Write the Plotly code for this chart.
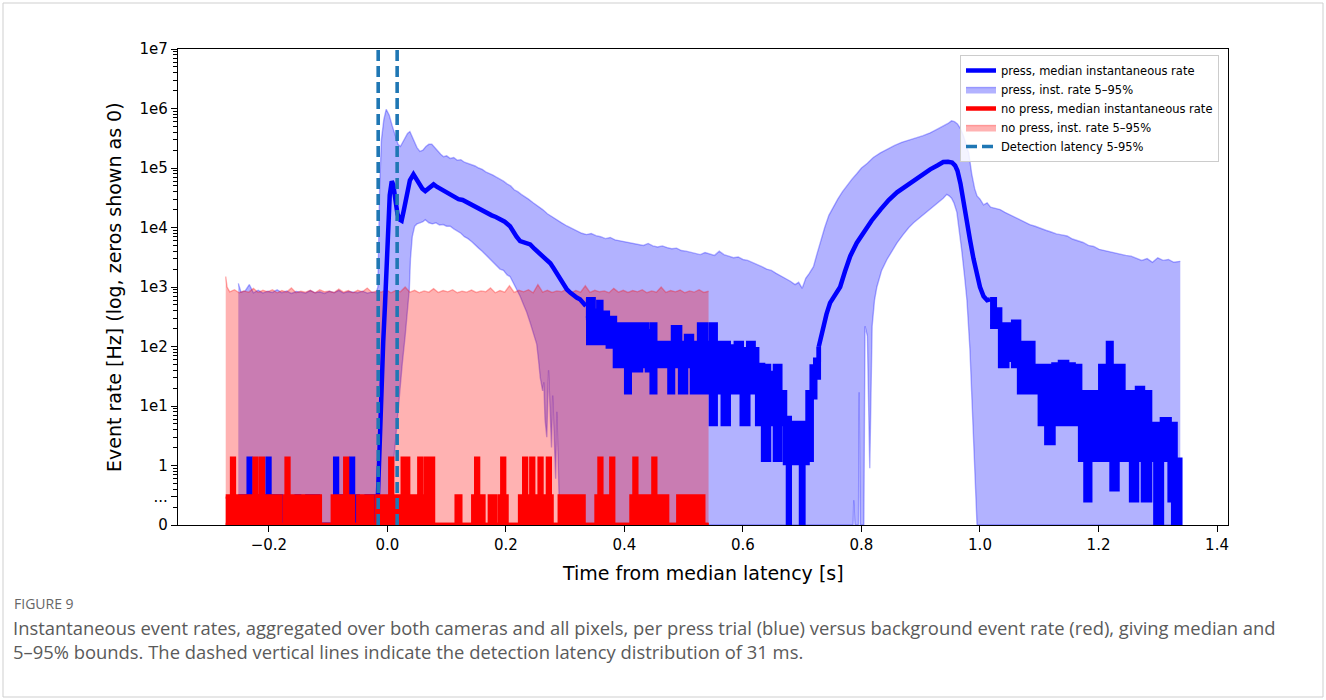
import plotly.graph_objects as go

ZERO_SHOWN_AS = 0.1  # zeros are drawn at the bottom of the log axis ("0")

# ---------------- data (time in s, rates in Hz) ----------------
# press trials: 95th percentile of instantaneous rate
press_p95 = [
    (-0.2515, 1150), (-0.247, 820), (-0.240, 860), (-0.233, 1100), (-0.226, 800), (-0.218, 880),
    (-0.210, 790), (-0.202, 850), (-0.194, 810), (-0.186, 900), (-0.178, 800), (-0.170, 860),
    (-0.162, 780), (-0.154, 840), (-0.146, 820), (-0.138, 790), (-0.130, 870), (-0.122, 800),
    (-0.114, 830), (-0.106, 780), (-0.098, 850), (-0.090, 800), (-0.082, 880), (-0.074, 790),
    (-0.066, 840), (-0.058, 810), (-0.050, 800), (-0.042, 850), (-0.034, 790), (-0.026, 820),
    (-0.019, 800), (-0.016, 1000), (-0.013, 5e4), (-0.010, 3e5), (-0.006, 6.5e5), (-0.002, 9.7e5),
    (0.003, 7.8e5), (0.008, 5.2e5), (0.013, 3.5e5), (0.018, 2.5e5), (0.022, 2.3e5), (0.026, 2.7e5),
    (0.030, 3.2e5), (0.034, 3.8e5), (0.038, 4.1e5), (0.042, 3.4e5), (0.046, 2.7e5), (0.050, 2.2e5),
    (0.055, 1.9e5), (0.060, 2.0e5), (0.065, 2.3e5), (0.070, 2.5e5), (0.075, 2.5e5), (0.080, 2.2e5),
    (0.085, 1.9e5), (0.090, 1.7e5), (0.095, 1.55e5), (0.100, 1.6e5), (0.106, 1.45e5), (0.112, 1.5e5),
    (0.118, 1.35e5), (0.124, 1.38e5), (0.130, 1.25e5), (0.136, 1.2e5), (0.142, 1.15e5), (0.148, 1.08e5),
    (0.154, 1.0e5), (0.160, 9.5e4), (0.166, 8.6e4), (0.172, 8.2e4), (0.178, 7.6e4), (0.184, 7.0e4),
    (0.190, 6.5e4), (0.196, 6.0e4), (0.202, 5.4e4), (0.208, 5.0e4), (0.214, 4.3e4), (0.220, 4.0e4),
    (0.226, 3.6e4), (0.232, 3.3e4), (0.238, 3.0e4), (0.246, 2.6e4), (0.254, 2.3e4), (0.262, 2.0e4),
    (0.270, 1.7e4), (0.278, 1.5e4), (0.286, 1.35e4), (0.294, 1.2e4), (0.303, 1.06e4), (0.312, 9.5e3),
    (0.320, 8.6e3), (0.328, 8.0e3), (0.336, 7.6e3), (0.344, 7.9e3), (0.352, 7.3e3), (0.360, 7.0e3),
    (0.368, 6.5e3), (0.376, 6.8e3), (0.384, 6.2e3), (0.392, 6.0e3), (0.400, 5.8e3), (0.408, 5.6e3),
    (0.416, 5.5e3), (0.424, 5.2e3), (0.432, 5.0e3), (0.440, 5.4e3), (0.448, 4.9e3), (0.456, 4.7e3),
    (0.464, 4.9e3), (0.472, 4.6e3), (0.480, 4.4e3), (0.488, 4.5e3), (0.496, 4.1e3), (0.504, 4.0e3),
    (0.512, 3.8e3), (0.520, 3.7e3), (0.528, 3.5e3), (0.536, 3.8e3), (0.544, 3.6e3), (0.552, 3.4e3),
    (0.560, 4.0e3), (0.568, 3.5e3), (0.576, 3.3e3), (0.584, 3.1e3), (0.592, 3.2e3), (0.600, 2.9e3),
    (0.608, 2.8e3), (0.616, 2.6e3), (0.624, 2.4e3), (0.632, 2.2e3), (0.640, 2.0e3), (0.648, 1.9e3),
    (0.656, 1.7e3), (0.664, 1.55e3), (0.672, 1.4e3), (0.680, 1.25e3), (0.688, 1.1e3), (0.694, 1.2e3),
    (0.700, 950), (0.706, 1.4e3), (0.712, 1.7e3), (0.719, 2.2e3), (0.725, 3.6e3), (0.731, 6.0e3),
    (0.738, 1.0e4), (0.745, 1.6e4), (0.752, 2.2e4), (0.760, 3.0e4), (0.768, 4.0e4), (0.776, 5.2e4),
    (0.784, 6.5e4), (0.792, 8.0e4), (0.800, 1.0e5), (0.810, 1.2e5), (0.820, 1.5e5), (0.832, 1.8e5),
    (0.844, 2.1e5), (0.856, 2.4e5), (0.868, 2.7e5), (0.880, 2.9e5), (0.892, 3.2e5), (0.904, 3.5e5),
    (0.916, 3.9e5), (0.928, 4.5e5), (0.938, 5.0e5), (0.946, 5.6e5), (0.952, 6.2e5), (0.957, 6.0e5),
    (0.962, 5.5e5), (0.967, 4.6e5), (0.972, 3.5e5), (0.977, 2.5e5), (0.981, 1.8e5), (0.986, 8.0e4),
    (0.991, 4.5e4), (0.995, 3.4e4), (1.000, 3.0e4), (1.006, 2.4e4), (1.012, 2.6e4), (1.018, 2.2e4),
    (1.026, 2.1e4), (1.034, 2.0e4), (1.042, 1.8e4), (1.050, 1.65e4), (1.058, 1.5e4), (1.066, 1.4e4),
    (1.075, 1.25e4), (1.084, 1.12e4), (1.093, 1.05e4), (1.102, 9.6e3), (1.111, 9.0e3), (1.120, 8.4e3),
    (1.129, 7.8e3), (1.138, 7.5e3), (1.147, 7.2e3), (1.156, 6.4e3), (1.165, 6.0e3), (1.174, 5.6e3),
    (1.183, 5.0e3), (1.192, 4.8e3), (1.201, 4.3e3), (1.210, 4.1e3), (1.219, 3.9e3), (1.228, 3.7e3),
    (1.237, 3.5e3), (1.246, 3.4e3), (1.255, 3.3e3), (1.264, 3.0e3), (1.273, 2.8e3), (1.282, 3.0e3),
    (1.291, 2.6e3), (1.300, 3.1e3), (1.309, 2.8e3), (1.318, 2.9e3), (1.327, 2.6e3), (1.338, 2.7e3),
]

# press trials: 5th percentile of instantaneous rate
press_p05 = [
    (-0.2515, 0), (0.008, 0), (0.011, 1.3), (0.015, 4), (0.020, 15), (0.025, 50), (0.030, 150),
    (0.034, 400), (0.037, 900), (0.039, 3000), (0.042, 7000), (0.046, 1.05e4), (0.050, 1.15e4),
    (0.055, 1.2e4), (0.060, 1.25e4), (0.064, 1.35e4), (0.070, 1.2e4), (0.076, 1.15e4), (0.082, 1.2e4),
    (0.088, 1.1e4), (0.094, 1.12e4), (0.100, 1.05e4), (0.106, 1.05e4), (0.112, 9.5e3), (0.118, 8.8e3),
    (0.124, 8.0e3), (0.130, 7.0e3), (0.136, 6.5e3), (0.142, 5.8e3), (0.148, 5.0e3), (0.154, 4.5e3),
    (0.160, 4.0e3), (0.166, 3.5e3), (0.172, 3.0e3), (0.178, 2.7e3), (0.184, 2.3e3), (0.190, 2.0e3),
    (0.196, 1.9e3), (0.202, 1.6e3), (0.207, 1.5e3), (0.212, 1.2e3), (0.218, 950), (0.224, 700),
    (0.230, 500), (0.235, 380), (0.241, 250), (0.246, 170), (0.252, 110), (0.255, 60), (0.258, 30),
    (0.262, 18), (0.264, 25), (0.266, 6), (0.269, 3), (0.272, 40), (0.275, 5), (0.277, 2), (0.279, 15),
    (0.282, 2), (0.284, 0.6), (0.286, 8), (0.289, 0.5), (0.291, 0), (0.786, 0), (0.787, 0.26),
    (0.789, 0), (0.795, 0), (0.796, 17), (0.798, 0), (0.804, 0), (0.806, 220), (0.810, 150),
    (0.814, 0.9), (0.818, 220), (0.822, 600), (0.826, 1000), (0.834, 1900), (0.843, 2900),
    (0.852, 4200), (0.860, 5500), (0.870, 7500), (0.880, 1.0e4), (0.888, 1.2e4), (0.900, 1.5e4),
    (0.910, 1.8e4), (0.920, 2.2e4), (0.930, 2.6e4), (0.938, 3.1e4), (0.944, 3.6e4), (0.948, 3.4e4),
    (0.952, 3.1e4), (0.956, 2.6e4), (0.961, 1.8e4), (0.965, 9e3), (0.969, 4.3e3), (0.974, 1.5e3),
    (0.978, 600), (0.983, 90), (0.987, 10), (0.990, 2), (0.995, 0), (1.338, 0),
]

# no-press (background): 95th / 5th percentile
nopress_p95 = [
    (-0.2728, 1500), (-0.2705, 1000), (-0.266, 830), (-0.258, 900), (-0.250, 800), (-0.242, 860),
    (-0.234, 820), (-0.226, 950), (-0.218, 810), (-0.210, 880), (-0.202, 830), (-0.194, 900),
    (-0.186, 800), (-0.178, 870), (-0.170, 820), (-0.162, 960), (-0.154, 800), (-0.146, 850),
    (-0.138, 820), (-0.130, 880), (-0.122, 800), (-0.114, 900), (-0.106, 830), (-0.098, 850),
    (-0.090, 810), (-0.082, 920), (-0.074, 820), (-0.066, 870), (-0.058, 800), (-0.050, 880),
    (-0.042, 830), (-0.034, 960), (-0.026, 810), (-0.018, 860), (-0.010, 820), (-0.002, 900),
    (0.006, 800), (0.014, 870), (0.022, 830), (0.030, 1000), (0.038, 820), (0.046, 880),
    (0.054, 800), (0.062, 860), (0.070, 820), (0.078, 940), (0.086, 810), (0.094, 870),
    (0.102, 830), (0.110, 900), (0.118, 800), (0.126, 850), (0.134, 820), (0.142, 890),
    (0.150, 810), (0.158, 860), (0.166, 830), (0.174, 960), (0.182, 800), (0.190, 870),
    (0.198, 820), (0.206, 1050), (0.214, 810), (0.222, 880), (0.230, 830), (0.238, 900),
    (0.246, 800), (0.254, 1100), (0.262, 820), (0.270, 880), (0.278, 810), (0.286, 860),
    (0.294, 830), (0.302, 920), (0.310, 800), (0.318, 870), (0.326, 820), (0.334, 1050),
    (0.342, 810), (0.350, 880), (0.358, 830), (0.366, 860), (0.374, 800), (0.382, 950),
    (0.390, 820), (0.398, 880), (0.406, 810), (0.414, 870), (0.422, 830), (0.430, 900),
    (0.438, 800), (0.446, 860), (0.454, 820), (0.462, 1000), (0.470, 810), (0.478, 870),
    (0.486, 830), (0.494, 890), (0.502, 800), (0.510, 860), (0.518, 820), (0.526, 900),
    (0.534, 810), (0.542, 850),
]
nopress_p05 = [(-0.2728, 0), (0.542, 0)]

# press median: smooth stretches
press_median_onset = [
    (-0.016, 0.3), (-0.014, 1.5), (-0.012, 8), (-0.0095, 40), (-0.007, 120), (-0.004, 500),
    (-0.001, 2000), (0.002, 1.2e4), (0.004, 3.5e4), (0.0074, 6e4), (0.010, 5.2e4), (0.013, 3.2e4),
    (0.017, 1.7e4), (0.021, 1.35e4), (0.024, 1.3e4), (0.028, 2e4), (0.033, 4e4), (0.038, 6.2e4),
    (0.044, 7.8e4), (0.049, 6.5e4), (0.054, 5.4e4), (0.059, 4.5e4), (0.064, 4.1e4), (0.070, 4.5e4),
    (0.078, 5.3e4), (0.084, 4.8e4), (0.090, 4.4e4), (0.098, 4.0e4), (0.106, 3.5e4), (0.113, 3.3e4),
    (0.120, 3.0e4), (0.127, 2.9e4), (0.134, 2.65e4), (0.141, 2.4e4), (0.148, 2.25e4), (0.155, 2.1e4),
    (0.162, 1.9e4), (0.169, 1.75e4), (0.176, 1.6e4), (0.183, 1.5e4), (0.190, 1.38e4), (0.198, 1.25e4),
    (0.207, 1.05e4), (0.212, 8.5e3), (0.218, 7e3), (0.224, 5.9e3), (0.230, 5.6e3), (0.236, 5.5e3),
    (0.241, 5.2e3), (0.248, 4.4e3), (0.255, 3.8e3), (0.262, 3.3e3), (0.269, 2.9e3), (0.275, 2.5e3),
    (0.280, 2.1e3), (0.286, 1.7e3), (0.291, 1.4e3), (0.297, 1.1e3), (0.303, 910), (0.309, 800),
    (0.315, 700), (0.320, 660), (0.325, 620), (0.330, 550), (0.335, 480),
]
press_median_second_peak = [
    (0.728, 100), (0.731, 140), (0.736, 220), (0.741, 350), (0.747, 540), (0.755, 750),
    (0.764, 1000), (0.772, 1800), (0.781, 3300), (0.792, 5500), (0.803, 8100), (0.817, 1.3e4),
    (0.832, 2e4), (0.846, 2.9e4), (0.860, 3.9e4), (0.874, 4.9e4), (0.888, 6e4), (0.902, 7.6e4),
    (0.916, 9.5e4), (0.928, 1.1e5), (0.938, 1.26e5), (0.946, 1.27e5), (0.953, 1.23e5), (0.958, 1.1e5),
    (0.962, 9e4), (0.967, 5.5e4), (0.972, 3e4), (0.978, 1.2e4), (0.983, 6.3e3), (0.989, 3e3),
    (0.995, 1.5e3), (1.000, 1.0e3), (1.006, 700), (1.012, 600), (1.017, 620),
]
# press median: noisy stretches as (t, upper level, lower level) of the rapidly switching steps
press_median_pre = [
    (-0.2515, 0.3, 0), (-0.234, 1.3, 0), (-0.231, 0.3, 0), (-0.202, 1.3, 0), (-0.199, 0.3, 0),
    (-0.180, 0, 0), (-0.153, 0.3, 0), (-0.149, 0, 0), (-0.135, 0.3, 0), (-0.117, 0, 0),
    (-0.088, 1.3, 0), (-0.085, 0.3, 0), (-0.070, 0, 0), (-0.061, 1.3, 0), (-0.058, 0.3, 0),
    (-0.050, 0, 0), (-0.035, 0.3, 0), (-0.016, 0.3, 0),
]
press_median_mid = [
    (0.335, 600, 300), (0.339, 620, 115), (0.348, 400, 115), (0.356, 560, 140), (0.361, 370, 115),
    (0.372, 300, 100), (0.384, 235, 47), (0.396, 235, 60), (0.403, 235, 17), (0.409, 200, 47),
    (0.415, 235, 40), (0.428, 235, 47), (0.438, 180, 40), (0.446, 235, 17), (0.452, 115, 47),
    (0.466, 115, 47), (0.476, 115, 17), (0.482, 210, 47), (0.494, 115, 17), (0.504, 150, 47),
    (0.514, 115, 17), (0.526, 235, 17), (0.538, 115, 17), (0.546, 235, 5), (0.554, 115, 17),
    (0.566, 115, 5), (0.576, 100, 17), (0.588, 115, 17), (0.598, 90, 5), (0.609, 115, 17),
    (0.618, 90, 17), (0.624, 49, 5), (0.634, 47, 1.25), (0.644, 36, 5), (0.654, 47, 1.25),
    (0.663, 17, 5), (0.671, 6.3, 1.1), (0.676, 6.3, 0), (0.679, 5.2, 1.1), (0.698, 5.2, 0),
    (0.702, 5.2, 1.1), (0.709, 17, 1.25), (0.716, 46, 14), (0.722, 60, 30), (0.728, 100, 100),
]
press_median_tail = [
    (1.017, 620, 215), (1.025, 420, 215), (1.034, 234, 47), (1.046, 234, 60), (1.056, 260, 47),
    (1.066, 115, 17), (1.080, 115, 17), (1.090, 47, 17), (1.101, 47, 5), (1.112, 47, 2.4),
    (1.124, 50, 5), (1.135, 55, 5), (1.147, 50, 5), (1.158, 47, 5), (1.169, 17, 1.25),
    (1.178, 17, 0.26), (1.186, 17, 1.25), (1.196, 17, 1.25), (1.203, 47, 1.25), (1.216, 115, 1.25),
    (1.222, 47, 0.4), (1.232, 47, 1.25), (1.242, 17, 1.25), (1.255, 17, 0.26), (1.265, 20, 1.25),
    (1.275, 17, 0.26), (1.287, 5, 1.25), (1.296, 5, 0), (1.299, 5, 1.25), (1.303, 5, 0),
    (1.307, 6, 1.25), (1.320, 5, 0.26), (1.326, 5, 0), (1.330, 1.25, 0), (1.338, 0, 0),
]
# no-press median (mostly zero, short steps to ~0.3 and ~1.3 Hz)
nopress_median = [
    (-0.2728, 0.3), (-0.262, 1.3), (-0.259, 0.3), (-0.229, 0), (-0.227, 0.3), (-0.224, 1.3),
    (-0.221, 0.3), (-0.213, 1.3), (-0.210, 0.3), (-0.181, 0), (-0.173, 0.3), (-0.170, 1.3),
    (-0.167, 0.3), (-0.151, 0), (-0.147, 0.3), (-0.114, 0), (-0.092, 0.3), (-0.071, 1.3),
    (-0.068, 0.3), (-0.058, 0), (-0.049, 0.3), (-0.041, 0), (-0.035, 0.3), (-0.026, 0),
    (-0.018, 0.3), (0.005, 1.3), (0.008, 0.3), (0.016, 0), (0.021, 0.3), (0.026, 1.3),
    (0.029, 0.3), (0.031, 1.3), (0.035, 0.3), (0.043, 0), (0.047, 0.3), (0.054, 1.3),
    (0.057, 0.3), (0.065, 1.3), (0.068, 0.3), (0.074, 1.3), (0.077, 0), (0.117, 0.3),
    (0.123, 0), (0.145, 0.3), (0.150, 1.3), (0.153, 0.3), (0.162, 0), (0.173, 0.3),
    (0.182, 0), (0.190, 0.3), (0.194, 1.3), (0.197, 0.3), (0.201, 0), (0.224, 0.3),
    (0.229, 0), (0.231, 1.3), (0.234, 0.3), (0.236, 0), (0.243, 1.3), (0.246, 0.3),
    (0.250, 0), (0.252, 0.3), (0.257, 1.3), (0.260, 0.3), (0.271, 1.3), (0.274, 0.3),
    (0.277, 0), (0.291, 0.3), (0.331, 0), (0.353, 0.3), (0.358, 1.3), (0.361, 0.3),
    (0.378, 1.3), (0.381, 0), (0.412, 0.3), (0.417, 1.3), (0.420, 0.3), (0.449, 1.3),
    (0.452, 0.3), (0.472, 0), (0.491, 0.3), (0.499, 0), (0.505, 0.3), (0.533, 0), (0.542, 0),
]
# detection latency 5-95% bounds (s)
latency_bounds = [-0.0155, 0.0165]

x_tick_vals = [-0.2, 0.0, 0.2, 0.4, 0.6, 0.8, 1.0, 1.2, 1.4]
x_tick_text = ["\u22120.2", "0.0", "0.2", "0.4", "0.6", "0.8", "1.0", "1.2", "1.4"]
y_tick_vals = [0.1, 0.3, 1, 1e1, 1e2, 1e3, 1e4, 1e5, 1e6, 1e7]
y_tick_text = ["0", "...", "1", "1e1", "1e2", "1e3", "1e4", "1e5", "1e6", "1e7"]

caption_label = "FIGURE 9"
caption_lines = [
    "Instantaneous event rates, aggregated over both cameras and all pixels, per press trial (blue) versus background event rate (red), giving median and",
    "5\u201395% bounds. The dashed vertical lines indicate the detection latency distribution of 31 ms.",
]

# ---------------- helpers ----------------
def show(v):
    return v if v > 0 else ZERO_SHOWN_AS

def xs(pairs):
    return [p[0] for p in pairs]

def ys(pairs, i=1):
    return [show(p[i]) for p in pairs]

BLUE = "#0000ff"
RED = "#ff0000"
BLUE_BAND = "rgba(0,0,255,0.3)"
RED_BAND = "rgba(255,0,0,0.3)"
MED_W = 4.5
FONT = "DejaVu Sans"

fig = go.Figure()

# press band
fig.add_trace(go.Scatter(x=xs(press_p05), y=ys(press_p05), mode="lines",
                         line=dict(color=BLUE_BAND, width=1.4), showlegend=False, hoverinfo="skip"))
fig.add_trace(go.Scatter(x=xs(press_p95), y=ys(press_p95), mode="lines", fill="tonexty",
                         fillcolor=BLUE_BAND, line=dict(color=BLUE_BAND, width=1.4),
                         name="press, inst. rate 5\u201395%", legendrank=2))
# no-press band
fig.add_trace(go.Scatter(x=xs(nopress_p05), y=ys(nopress_p05), mode="lines",
                         line=dict(color=RED_BAND, width=1.4), showlegend=False, hoverinfo="skip"))
fig.add_trace(go.Scatter(x=xs(nopress_p95), y=ys(nopress_p95), mode="lines", fill="tonexty",
                         fillcolor=RED_BAND, line=dict(color=RED_BAND, width=1.4),
                         name="no press, inst. rate 5\u201395%", legendrank=4))


def add_steps(data, color, lo_index=None, legend_name=None, rank=None):
    """Rapidly switching median drawn as a solid step band between its two levels."""
    lo = [show(p[lo_index]) if lo_index is not None else ZERO_SHOWN_AS for p in data]
    hi = [show(p[1]) for p in data]
    t = xs(data)
    fig.add_trace(go.Scatter(x=t, y=lo, mode="lines", line=dict(color=color, width=MED_W, shape="hv"),
                             name=legend_name or "", showlegend=legend_name is not None,
                             legendrank=rank if rank else 1000, hoverinfo="skip"))
    fig.add_trace(go.Scatter(x=t, y=hi, mode="lines", fill="tonexty", fillcolor=color,
                             line=dict(color=color, width=MED_W, shape="hv"),
                             showlegend=False, hoverinfo="skip"))


# press median
add_steps(press_median_pre, BLUE)
fig.add_trace(go.Scatter(x=xs(press_median_onset), y=ys(press_median_onset), mode="lines",
                         line=dict(color=BLUE, width=MED_W), name="press, median instantaneous rate",
                         legendrank=1))
add_steps(press_median_mid, BLUE, lo_index=2)
fig.add_trace(go.Scatter(x=xs(press_median_second_peak), y=ys(press_median_second_peak), mode="lines",
                         line=dict(color=BLUE, width=MED_W), showlegend=False))
add_steps(press_median_tail, BLUE, lo_index=2)

# no-press median
add_steps(nopress_median, RED, legend_name="no press, median instantaneous rate", rank=3)

# detection latency lines
for i, t in enumerate(latency_bounds):
    fig.add_trace(go.Scatter(x=[t, t], y=[1e-1, 1e7], mode="lines",
                             line=dict(color="#1f77b4", width=3.6, dash="11px,5px"),
                             name="Detection latency 5-95%", showlegend=(i == 0), legendrank=5))

# ---------------- layout ----------------
L, R, T, B = 178, 98, 49, 175
W, H = 1326, 700
pw, ph = W - L - R, H - T - B

def px_x(px):
    return (px - L) / pw

def px_y(py):
    return (H - B - py) / ph

minor_vals = [m * 10 ** k for k in range(-1, 7) for m in range(2, 10)]

fig.update_layout(
    width=W, height=H,
    margin=dict(l=L, r=R, t=T, b=B),
    paper_bgcolor="white", plot_bgcolor="white",
    font=dict(family=FONT, color="black"),
    showlegend=True,
    legend=dict(x=px_x(1219), xanchor="right", y=px_y(55), yanchor="top", traceorder="normal",
                bgcolor="rgba(255,255,255,0.85)", bordercolor="#cccccc", borderwidth=1,
                font=dict(family=FONT, size=11.5, color="black"), itemwidth=30,
                tracegroupgap=0),
    xaxis=dict(range=[-0.3533, 1.4185], tickmode="array", tickvals=x_tick_vals, ticktext=x_tick_text,
               ticks="outside", ticklen=6, tickwidth=1.3, tickcolor="black",
               showline=True, linecolor="black", linewidth=1.3, mirror=True,
               showgrid=False, zeroline=False, tickfont=dict(family=FONT, size=15, color="black")),
    yaxis=dict(type="log", range=[-1, 7], tickmode="array", tickvals=y_tick_vals, ticktext=y_tick_text,
               ticks="outside", ticklen=6, tickwidth=1.3, tickcolor="black",
               minor=dict(tickmode="array", tickvals=minor_vals, ticks="outside", ticklen=3.5,
                          tickwidth=1, tickcolor="black", showgrid=False),
               showline=True, linecolor="black", linewidth=1.3, mirror=True,
               showgrid=False, zeroline=False, tickfont=dict(family=FONT, size=15, color="black")),
)

ann = [
    dict(text="Event rate [Hz] (log, zeros shown as 0)", x=px_x(114), y=0.5, xref="paper", yref="paper",
         textangle=-90, showarrow=False, xanchor="center", yanchor="middle",
         font=dict(family=FONT, size=19, color="black")),
    dict(text="Time from median latency [s]", x=0.5, y=px_y(573), xref="paper", yref="paper",
         showarrow=False, xanchor="center", yanchor="middle",
         font=dict(family=FONT, size=19, color="black")),
    dict(text=caption_label, x=px_x(12), y=px_y(603), xref="paper", yref="paper", showarrow=False,
         xanchor="left", yanchor="middle", font=dict(family="Open Sans", size=14, color="#666666")),
    dict(text="<br>".join(caption_lines), x=px_x(11), y=px_y(613), xref="paper", yref="paper",
         showarrow=False, xanchor="left", yanchor="top", align="left",
         font=dict(family="Open Sans", size=18.4, color="#5a5a5a")),
]
fig.update_layout(annotations=ann)

# light frame around the whole figure panel
fig.add_shape(type="rect", xref="paper", yref="paper", x0=px_x(3), x1=px_x(1323), y0=px_y(3), y1=px_y(697),
              line=dict(color="#cfcfcf", width=1), fillcolor="rgba(0,0,0,0)", layer="below")

fig.write_html("out.html")
